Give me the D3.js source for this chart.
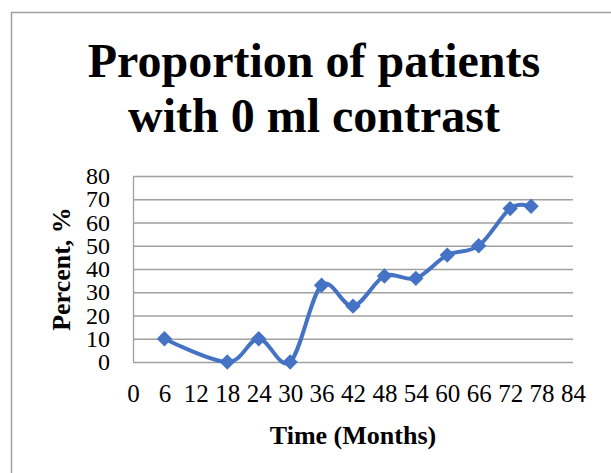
<!DOCTYPE html>
<html>
<head>
<meta charset="utf-8">
<script src="https://cdn.jsdelivr.net/npm/d3@7"></script>
<style>
  body { margin: 0; background: #fff; }
  svg { display: block; font-family: "Liberation Serif", "Times New Roman", serif; }
</style>
</head>
<body>
<div id="app"></div>
<script>
// data
var months = [6, 18, 24, 30, 36, 42, 48, 54, 60, 66, 72, 76];
var percent = [10, 0, 10, 0, 33, 24, 37, 36, 46, 50, 66, 67];
var xTicks = [0, 6, 12, 18, 24, 30, 36, 42, 48, 54, 60, 66, 72, 78, 84];
var yTicks = [0, 10, 20, 30, 40, 50, 60, 70, 80];
var titleLines = ["Proportion of patients", "with 0 ml contrast"];

var W = 611, H = 473;
var margin = {top: 176, right: 38, bottom: 111, left: 133};
var width = W - margin.left - margin.right,
    height = H - margin.top - margin.bottom;

var svg = d3.select("#app").append("svg")
    .attr("width", W)
    .attr("height", H);

// chart frame (only top/left edges visible in crop)
svg.append("rect")
    .attr("x", 11.5).attr("y", 12.5)
    .attr("width", 700).attr("height", 600)
    .attr("fill", "none")
    .attr("stroke", "#a0a0a0")
    .attr("stroke-width", 1.5);

svg.selectAll(".title")
    .data(titleLines)
  .enter().append("text")
    .attr("class", "title")
    .attr("x", 314)
    .attr("y", function(d, i) { return 77 + i * 55; })
    .attr("text-anchor", "middle")
    .attr("font-size", 48)
    .attr("font-weight", "bold")
    .text(function(d) { return d; });

var x = d3.scaleLinear().domain([0, 84]).range([0, width]);
var y = d3.scaleLinear().domain([0, 80]).range([height, 0]);

var g = svg.append("g")
    .attr("transform", "translate(" + margin.left + "," + margin.top + ")");

// horizontal gridlines
g.append("g")
    .attr("class", "grid")
    .call(d3.axisLeft(y).tickValues(yTicks).tickSize(-width).tickFormat(""))
    .call(function(s) {
      s.select(".domain").remove();
      s.selectAll("line").attr("stroke", "#a0a0a0").attr("stroke-width", 1.3);
    });

// y axis line + labels
g.append("g")
    .call(d3.axisLeft(y).tickValues(yTicks).tickSize(0).tickPadding(23))
    .call(function(s) {
      s.select(".domain").attr("stroke", "#a0a0a0").attr("stroke-width", 1.3);
      s.selectAll("text")
        .attr("font-family", "Liberation Serif, serif")
        .attr("font-size", 24)
        .attr("fill", "#000");
    });

// x axis labels
g.append("g")
    .attr("transform", "translate(0," + height + ")")
    .call(d3.axisBottom(x).tickValues(xTicks).tickSize(0).tickPadding(22))
    .call(function(s) {
      s.select(".domain").remove();
      s.selectAll("text")
        .attr("font-family", "Liberation Serif, serif")
        .attr("font-size", 25)
        .attr("fill", "#000");
    });

// axis titles
svg.append("text")
    .attr("x", 353)
    .attr("y", 444)
    .attr("text-anchor", "middle")
    .attr("font-size", 26)
    .attr("font-weight", "bold")
    .text("Time (Months)");

svg.append("text")
    .attr("transform", "translate(70,269) rotate(-90)")
    .attr("text-anchor", "middle")
    .attr("font-size", 26)
    .attr("font-weight", "bold")
    .text("Percent, %");

// smoothed series line
var line = d3.line()
    .x(function(d, i) { return x(months[i]); })
    .y(function(d) { return y(d); })
    .curve(d3.curveCatmullRom.alpha(0));

g.append("path")
    .datum(percent)
    .attr("fill", "none")
    .attr("stroke", "#4472c4")
    .attr("stroke-width", 4)
    .attr("d", line);

g.selectAll(".pt")
    .data(percent)
  .enter().append("path")
    .attr("class", "pt")
    .attr("d", d3.symbol().type(d3.symbolDiamond2).size(150))
    .attr("transform", function(d, i) {
      return "translate(" + x(months[i]) + "," + y(d) + ")";
    })
    .attr("fill", "#4472c4");
</script>
</body>
</html>
